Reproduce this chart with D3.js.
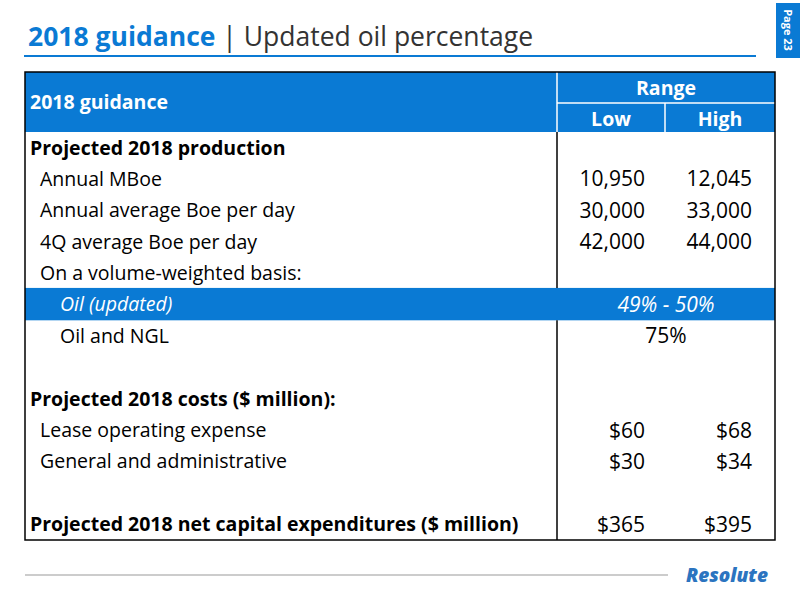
<!DOCTYPE html>
<html><head><meta charset="utf-8">
<script src="https://cdn.jsdelivr.net/npm/d3@7"></script>
<style>body{margin:0;background:#fff}</style></head>
<body><svg id="c" width="800" height="600"></svg>
<script>
const rowLabels=["Projected 2018 production","Annual MBoe","Annual average Boe per day","4Q average Boe per day","On a volume-weighted basis:","Oil (updated)","Oil and NGL","","Projected 2018 costs ($ million):","Lease operating expense","General and administrative","","Projected 2018 net capital expenditures ($ million)"];
const rowKinds=["bold","ind","ind","ind","ind","hl","ind2","","bold","ind","ind","","bold"];
const lowVals=["","10,950","30,000","42,000","","","","","","$60","$30","","$365"];
const highVals=["","12,045","33,000","44,000","","","","","","$68","$34","","$395"];
const spanVals=["","","","","","49% - 50%","75%","","","","","",""];
const colHeaders=["Low","High"];

const blue="#0A7AD4", F="'Open Sans',sans-serif", FS=19.5;
const svg=d3.select("#c");
const L=25,R=775,C1=557,C2=665,T=72,H1=103,H2=132,B=540;
const y=d3.scaleBand().domain(d3.range(rowLabels.length)).range([H2,B]);
const t=svg.append("text").attr("x",28).attr("y",46).attr("font-family",F).attr("font-size",26.5);
t.append("tspan").attr("fill",blue).attr("font-weight","bold").text("2018 guidance");
t.append("tspan").attr("fill","#333").text(" | Updated oil percentage");
svg.append("line").attr("x1",24).attr("x2",756).attr("y1",56).attr("y2",56).attr("stroke",blue).attr("stroke-width",2);
svg.append("rect").attr("x",776).attr("y",3).attr("width",24).attr("height",55).attr("fill",blue);
svg.append("text").attr("transform","translate(784,30) rotate(90)").attr("text-anchor","middle").attr("font-family",F).attr("font-weight","bold").attr("font-size",11).attr("fill","#fff").text("Page 23");
svg.append("rect").attr("x",L).attr("y",T).attr("width",R-L).attr("height",H2-T).attr("fill",blue);
svg.append("line").attr("x1",C1).attr("x2",R).attr("y1",H1).attr("y2",H1).attr("stroke","#fff").attr("stroke-width",1.5);
svg.append("line").attr("x1",C1).attr("x2",C1).attr("y1",T).attr("y2",H2).attr("stroke","#fff").attr("stroke-width",1.5);
svg.append("line").attr("x1",C2).attr("x2",C2).attr("y1",H1).attr("y2",H2).attr("stroke","#fff").attr("stroke-width",1.5);
const hs={"font-family":F,"font-weight":"bold","font-size":19.5,"fill":"#fff"};
function st(s,o){for(const k in o)s.attr(k,o[k]);return s;}
st(svg.append("text").attr("x",30).attr("y",109),hs).text("2018 guidance");
st(svg.append("text").attr("x",(C1+R)/2).attr("y",95).attr("text-anchor","middle"),hs).text("Range");
st(svg.append("text").attr("x",(C1+C2)/2).attr("y",126).attr("text-anchor","middle"),hs).text(colHeaders[0]);
st(svg.append("text").attr("x",(C2+R)/2).attr("y",126).attr("text-anchor","middle"),hs).text(colHeaders[1]);
rowLabels.forEach((lab,i)=>{
  const k=rowKinds[i], yc=y(i)+y.bandwidth()/2;
  if(k==="hl") svg.append("rect").attr("x",L).attr("y",y(i)-1).attr("width",R-L).attr("height",y.bandwidth()+1).attr("fill",blue);
  const col=k==="hl"?"#fff":"#000";
  const x=k==="bold"?30:(k==="hl"||k==="ind2")?60:40;
  svg.append("text").attr("x",x).attr("y",yc).attr("dy","0.35em").attr("font-family",F).attr("font-size",FS)
    .attr("font-weight",k==="bold"?"bold":"normal").attr("font-style",k==="hl"?"italic":"normal").attr("fill",col).text(lab);
  if(lowVals[i]) svg.append("text").attr("x",645).attr("y",yc).attr("dy","0.35em").attr("text-anchor","end").attr("font-family",F).attr("font-size",21).text(lowVals[i]);
  if(highVals[i]) svg.append("text").attr("x",752).attr("y",yc).attr("dy","0.35em").attr("text-anchor","end").attr("font-family",F).attr("font-size",21).text(highVals[i]);
  if(spanVals[i]) svg.append("text").attr("x",(C1+R)/2).attr("y",yc).attr("dy","0.35em").attr("text-anchor","middle").attr("font-family",F).attr("font-size",21).attr("font-style",k==="hl"?"italic":"normal").attr("fill",col).text(spanVals[i]);
});
svg.append("line").attr("x1",C1).attr("x2",C1).attr("y1",H2).attr("y2",y(5)-1).attr("stroke","#000").attr("stroke-width",1.5);
svg.append("line").attr("x1",C1).attr("x2",C1).attr("y1",y(6)).attr("y2",B).attr("stroke","#000").attr("stroke-width",1.5);
svg.append("rect").attr("x",L).attr("y",T).attr("width",R-L).attr("height",B-T).attr("fill","none").attr("stroke","#000").attr("stroke-width",1.5);
svg.append("line").attr("x1",25).attr("x2",668).attr("y1",575).attr("y2",575).attr("stroke","#999").attr("stroke-width",1);
svg.append("text").attr("x",768).attr("y",582).attr("text-anchor","end").attr("font-family",F).attr("font-weight",800).attr("font-style","italic").attr("font-size",19).attr("fill","#2B74C0").text("Resolute");
</script></body></html>
